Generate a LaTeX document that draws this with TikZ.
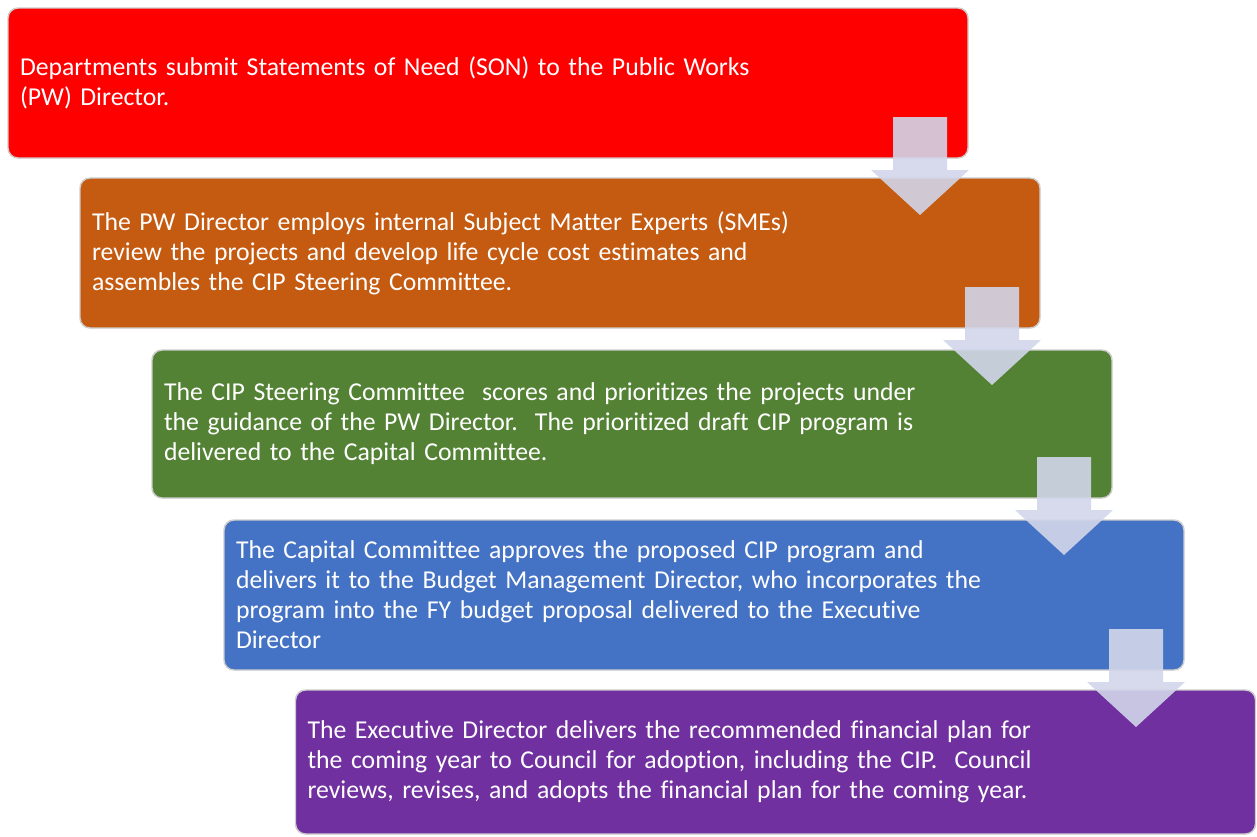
\documentclass[tikz,border=0pt]{standalone}
\usepackage{fontspec}
\setmainfont{Carlito}[Ligatures=NoCommon]
\usetikzlibrary{calc}
\definecolor{c1}{RGB}{255,0,0}
\definecolor{c2}{RGB}{197,90,17}
\definecolor{c3}{RGB}{84,130,53}
\definecolor{c4}{RGB}{68,114,196}
\definecolor{c5}{RGB}{112,48,160}
\definecolor{arrowc}{RGB}{210,214,234}
\definecolor{edgec}{RGB}{205,205,205}
\tikzset{
  stepbox/.style={draw=edgec, line width=1.1pt, rounded corners=7.5pt, outer sep=0pt,
    minimum width=720pt, minimum height=112.5pt, inner xsep=9pt, text width=702pt,
    align=left, text=white, font=\fontsize{19.3}{22.5}\selectfont},
  blockarrow/.style={fill=arrowc, fill opacity=0.9}
}
\newcommand{\downarrowshape}[1]{%
  \fill[blockarrow] ($(#1.south east)+(-75,-41)$) -- ++(54,0) -- ++(0,53) -- ++(22,0)
    -- ($(#1.south east)+(-48,57)$) -- ($(#1.south east)+(-97,12)$) -- ++(22,0) -- cycle;}
\begin{document}
\begin{tikzpicture}[x=0.75pt,y=-0.75pt]
\useasboundingbox (0,0) rectangle (1257,836);
\node[stepbox, fill=c1] (b1) at (488,83) {Departments submit Statements of Need (SON) to the Public Works\\(PW) Director.};
\node[stepbox, fill=c2] (b2) at (560,253) {The PW Director employs internal Subject Matter Experts (SMEs)\\review the projects and develop life cycle cost estimates and\\assembles the CIP Steering Committee.};
\node[stepbox, fill=c3, minimum height=111pt] (b3) at (632,424) {The CIP Steering Committee\ \ scores and prioritizes the projects under\\the guidance of the PW Director.\ \ The prioritized draft CIP program is\\delivered to the Capital Committee.};
\node[stepbox, fill=c4] (b4) at (704,595) {The Capital Committee approves the proposed CIP program and\\delivers it to the Budget Management Director, who incorporates the\\program into the FY budget proposal delivered to the Executive\\Director};
\node[stepbox, fill=c5, minimum height=108pt] (b5) at (775.5,762) {The Executive Director delivers the recommended financial plan for\\the coming year to Council for adoption, including the CIP.\ \ Council\\reviews, revises, and adopts the financial plan for the coming year.};
\downarrowshape{b1}
\downarrowshape{b2}
\downarrowshape{b3}
\downarrowshape{b4}
\end{tikzpicture}
\end{document}
